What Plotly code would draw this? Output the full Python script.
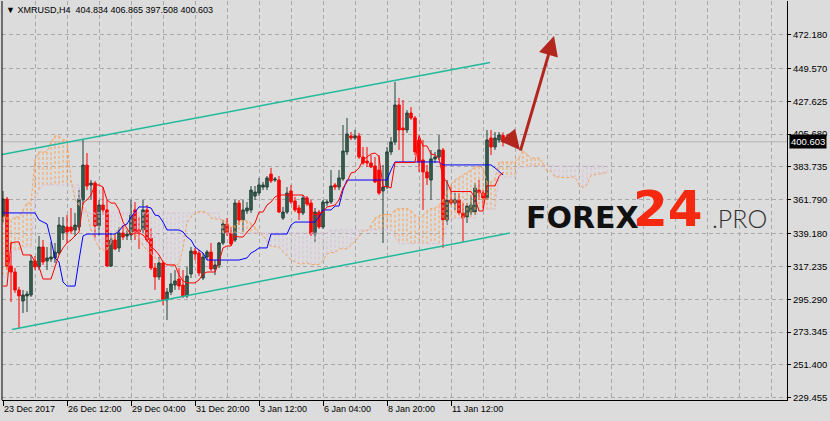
import plotly.graph_objects as go

# ---------------- data ----------------
bars = list(range(126))
opens = [350.3, 362.3, 317.5, 313.5, 301.5, 294.1, 297.5, 298.1, 320.9, 316.9,
         330.2, 320.9, 322.2, 322.9, 326.2, 339.6, 343.6, 343.6, 341.6, 343.6,
         361.7, 385.0, 371.7, 373.0, 344.3, 358.3, 355.0, 317.5, 334.9, 329.6,
         339.6, 337.6, 338.3, 355.0, 341.6, 341.6, 355.0, 336.2, 316.2, 310.2,
         319.5, 294.8, 300.1, 304.8, 308.8, 304.8, 297.5, 312.2, 327.5, 326.2,
         309.5, 323.5, 326.9, 315.5, 318.2, 332.9, 345.6, 339.6, 334.9, 359.6,
         348.3, 354.3, 355.0, 364.3, 366.3, 370.3, 370.3, 379.0, 375.0, 375.0,
         349.6, 353.6, 367.7, 361.0, 356.3, 353.0, 363.0, 359.6, 338.9, 353.6,
         343.6, 359.6, 360.3, 371.7, 370.3, 375.7, 393.8, 404.5, 403.1, 404.5,
         390.4, 387.7, 386.4, 384.4, 381.7, 367.7, 370.3, 393.8, 400.4, 425.2,
         409.8, 408.5, 419.8, 416.5, 401.8, 388.4, 380.4, 375.0, 389.1, 390.4,
         395.1, 348.3, 361.7, 359.6, 361.7, 353.0, 350.3, 353.6, 353.6, 368.3,
         366.3, 363.0, 403.1, 397.1, 401.8, 404.834]
highs = [367.7, 363.7, 333.6, 316.2, 303.5, 301.5, 300.8, 324.9, 324.2, 337.6,
         334.9, 330.2, 333.6, 332.9, 350.3, 350.3, 351.6, 356.3, 353.0, 368.3,
         401.8, 393.1, 375.0, 374.4, 361.7, 370.3, 361.7, 339.6, 339.6, 343.6,
         344.9, 341.6, 361.7, 360.3, 350.3, 361.7, 358.3, 342.9, 319.5, 323.5,
         320.2, 302.8, 312.8, 314.8, 316.2, 314.8, 316.9, 330.2, 329.6, 328.2,
         326.2, 328.2, 332.9, 321.5, 333.6, 348.3, 349.6, 343.6, 361.7, 361.7,
         361.7, 360.3, 371.0, 371.0, 376.4, 373.7, 377.7, 383.1, 377.0, 377.7,
         357.0, 370.3, 371.7, 363.7, 358.3, 365.0, 364.3, 361.7, 356.3, 355.0,
         361.7, 361.7, 381.7, 373.0, 381.7, 411.8, 416.5, 407.1, 408.5, 406.5,
         397.1, 397.1, 391.7, 390.4, 391.7, 385.1, 397.1, 403.8, 440.6, 429.9,
         428.5, 421.8, 423.8, 417.8, 403.8, 401.8, 385.1, 395.1, 393.8, 405.1,
         396.4, 375.0, 370.3, 366.3, 366.3, 359.6, 359.6, 365.0, 373.0, 375.0,
         368.3, 408.5, 408.5, 407.1, 407.1, 406.865]
lows = [346.9, 314.8, 293.4, 299.5, 276.1, 286.1, 286.8, 296.8, 314.8, 314.8,
        318.2, 314.8, 320.2, 319.5, 324.9, 334.9, 332.9, 338.9, 337.6, 341.6,
        358.3, 368.3, 361.7, 336.2, 337.6, 351.6, 316.9, 316.9, 328.2, 326.9,
        334.9, 334.9, 334.9, 334.9, 328.9, 339.6, 333.6, 314.8, 301.5, 308.2,
        291.4, 281.4, 298.1, 301.5, 301.5, 296.1, 296.1, 309.5, 321.5, 310.8,
        308.2, 321.5, 314.2, 311.5, 316.2, 331.6, 337.6, 330.9, 333.6, 344.9,
        340.3, 352.3, 353.0, 361.7, 364.3, 368.3, 368.3, 373.0, 373.7, 353.0,
        348.3, 352.3, 359.0, 353.6, 348.3, 351.6, 357.6, 337.6, 333.6, 342.3,
        342.3, 357.6, 359.0, 368.3, 368.3, 374.4, 391.7, 401.8, 401.8, 389.1,
        385.1, 383.7, 383.1, 373.0, 365.0, 332.9, 369.0, 391.7, 398.4, 395.1,
        387.1, 406.5, 415.2, 391.7, 380.4, 355.0, 371.7, 361.7, 386.4, 388.4,
        329.6, 344.9, 358.3, 355.0, 351.6, 333.6, 346.3, 351.6, 351.6, 361.7,
        356.3, 361.7, 391.7, 395.1, 399.8, 397.508]
closes = [362.3, 317.5, 313.5, 301.5, 297.5, 298.1, 298.8, 320.9, 316.9, 330.2,
          320.2, 322.9, 323.5, 326.9, 344.9, 344.3, 340.3, 340.9, 344.9, 362.3,
          385.0, 371.0, 373.0, 344.3, 358.3, 355.0, 317.5, 334.9, 328.9, 339.6,
          336.9, 338.9, 351.6, 340.3, 340.3, 355.0, 334.9, 316.2, 310.2, 319.5,
          294.8, 300.1, 305.5, 307.5, 304.1, 297.5, 310.8, 327.5, 325.5, 312.8,
          323.5, 326.9, 315.5, 318.2, 332.9, 345.6, 339.6, 332.2, 359.6, 348.3,
          355.0, 356.3, 368.3, 367.0, 371.7, 371.7, 376.4, 374.4, 375.7, 353.6,
          353.6, 366.3, 360.3, 355.0, 353.0, 363.0, 359.0, 338.9, 353.6, 343.6,
          360.3, 360.3, 371.0, 370.3, 376.4, 394.4, 405.8, 403.1, 404.5, 390.4,
          386.4, 386.4, 383.7, 373.7, 366.3, 370.3, 393.8, 400.4, 425.2, 408.5,
          408.5, 419.8, 416.5, 393.8, 387.1, 380.4, 376.4, 389.1, 390.4, 395.1,
          348.3, 361.7, 359.6, 361.7, 353.0, 349.6, 357.6, 358.3, 369.7, 366.3,
          363.0, 401.8, 397.1, 403.1, 405.1, 400.603]

tenkan = [304.1, 304.1, 332.9, 333.6, 333.6, 324.9, 324.9, 324.9, 320.2, 316.9,
          308.8, 308.8, 308.8, 316.9, 324.9, 329.6, 332.9, 334.9, 337.6, 340.3,
          359.6, 361.7, 365.0, 371.7, 371.7, 370.3, 361.7, 359.6, 359.6, 355.0,
          346.9, 343.0, 338.3, 339.6, 339.6, 338.3, 334.9, 330.2, 328.2, 324.9,
          320.2, 318.2, 318.2, 318.2, 311.5, 307.5, 306.2, 306.2, 306.2, 308.2,
          312.2, 313.5, 313.5, 313.5, 320.2, 329.6, 330.9, 330.9, 337.6, 336.9,
          336.9, 340.3, 342.9, 346.3, 353.6, 353.6, 358.3, 360.3, 363.7, 365.0,
          365.0, 365.0, 365.0, 365.0, 365.0, 365.0, 361.7, 355.0, 351.6, 352.3,
          353.6, 357.0, 357.6, 358.3, 361.7, 369.7, 373.7, 379.7, 380.4, 383.1,
          388.4, 390.4, 392.4, 393.1, 390.8, 370.7, 370.7, 369.7, 386.7, 386.7,
          386.7, 386.7, 386.7, 386.7, 404.8, 397.8, 397.8, 392.4, 391.8, 389.4,
          376.7, 373.7, 367.3, 367.3, 367.3, 367.3, 367.3, 367.3, 363.0, 354.3,
          354.3, 371.1, 371.1, 371.1, 377.4, 380.1]
kijun = [353.0, 353.0, 353.0, 353.0, 353.0, 353.0, 353.0, 353.0, 353.0, 348.3,
         346.9, 345.6, 334.9, 322.9, 320.2, 306.8, 304.1, 304.1, 304.1, 321.5,
         337.6, 338.9, 338.9, 338.9, 338.9, 338.9, 338.9, 338.9, 338.9, 340.9,
         344.3, 345.6, 350.3, 353.6, 357.0, 357.0, 357.0, 356.3, 351.6, 351.0,
         346.9, 341.6, 341.6, 341.6, 341.6, 340.3, 336.9, 334.9, 330.2, 328.2,
         326.2, 321.5, 321.5, 321.5, 321.5, 321.5, 321.5, 321.5, 321.5, 321.5,
         322.2, 322.9, 326.2, 327.6, 329.6, 329.6, 329.6, 338.9, 338.9, 338.9,
         338.9, 338.9, 344.9, 346.9, 346.9, 346.9, 346.9, 346.9, 346.9, 350.3,
         355.0, 355.0, 355.0, 357.6, 357.6, 368.3, 375.0, 375.0, 375.0, 375.0,
         375.0, 375.0, 375.0, 375.0, 375.0, 375.0, 375.0, 381.7, 387.1, 387.1,
         387.1, 387.1, 387.1, 387.1, 387.1, 387.1, 387.1, 387.1, 387.1, 387.1,
         385.1, 385.1, 385.1, 385.1, 385.1, 385.1, 385.1, 385.1, 385.1, 385.1,
         385.1, 385.1, 385.1, 383.1, 380.4, 378.4]

cloud_bars = list(range(152))
senkou_a = [350.3, 350.3, 348.3, 350.3, 350.3, 355.0, 359.6, 359.6, 388.4, 393.8,
            393.8, 393.8, 400.4, 404.5, 404.5, 401.8, 401.8, 375.0, 361.7, 358.3,
            357.0, 353.0, 341.6, 334.9, 329.6, 328.2, 328.2, 333.0, 340.0, 342.0,
            344.5, 341.0, 340.0, 339.0, 336.0, 331.0, 328.2, 325.5, 322.5, 320.5,
            320.5, 318.5, 318.5, 318.0, 319.0, 329.5, 346.5, 350.3, 352.5, 354.0,
            354.0, 353.0, 349.5, 349.0, 349.0, 348.3, 346.0, 343.5, 344.5, 347.0,
            348.3, 347.5, 346.0, 343.5, 340.3, 338.0, 334.0, 330.5, 330.5, 330.0,
            327.0, 324.5, 321.5, 320.5, 319.0, 319.0, 319.5, 318.5, 318.5, 318.5,
            321.0, 325.5, 326.5, 326.5, 329.0, 329.0, 329.0, 331.5, 334.5, 337.0,
            341.0, 341.0, 344.5, 349.6, 351.0, 352.0, 352.0, 352.0, 355.0, 356.0,
            356.0, 356.0, 354.5, 351.5, 350.0, 351.5, 354.3, 356.0, 356.3, 358.0,
            361.7, 367.0, 372.0, 375.0, 376.5, 378.0, 380.0, 382.0, 383.7, 384.0,
            383.0, 373.5, 373.5, 376.0, 387.0, 387.0, 387.0, 387.0, 387.0, 390.0,
            394.5, 392.4, 389.7, 389.7, 389.7, 386.4, 381.0, 381.0, 377.0, 377.0,
            376.5, 376.5, 377.0, 377.0, 371.7, 370.0, 371.7, 378.0, 378.5, 379.0,
            379.0, 380.0]
senkou_b = [310.2, 310.2, 328.2, 328.2, 328.2, 330.2, 330.2, 330.2, 361.7, 368.3,
            371.7, 371.7, 371.7, 371.7, 371.7, 371.7, 371.7, 371.7, 371.7, 371.7,
            353.0, 353.0, 353.0, 353.0, 353.0, 353.0, 353.0, 353.0, 353.0, 353.0,
            353.0, 353.0, 353.0, 353.0, 353.0, 353.0, 353.0, 353.0, 353.0, 353.0,
            353.0, 353.0, 353.0, 353.0, 353.0, 353.0, 353.0, 353.0, 353.0, 353.0,
            353.0, 353.0, 353.0, 353.0, 353.0, 339.6, 339.6, 339.6, 339.6, 339.6,
            339.6, 339.6, 339.6, 339.6, 339.6, 339.6, 339.6, 339.6, 339.6, 339.6,
            339.6, 339.6, 339.6, 339.6, 339.6, 339.6, 339.6, 339.6, 339.6, 339.6,
            339.6, 339.6, 341.6, 341.6, 341.6, 341.6, 341.6, 341.6, 341.6, 341.6,
            341.6, 341.6, 341.6, 341.6, 341.6, 341.6, 341.6, 341.6, 337.0, 332.5,
            332.5, 332.5, 332.5, 332.5, 332.5, 332.5, 332.5, 332.5, 332.5, 332.5,
            332.5, 346.9, 349.0, 349.5, 349.5, 349.5, 349.5, 349.5, 349.5, 355.5,
            355.5, 355.5, 355.5, 355.5, 377.0, 377.0, 377.0, 377.0, 377.0, 383.7,
            383.7, 383.7, 384.4, 384.4, 384.4, 384.4, 384.4, 384.4, 384.4, 384.4,
            384.4, 384.4, 384.4, 384.4, 384.4, 384.4, 384.4, 384.4, 384.4, 384.4,
            384.4, 384.4]

time_tick_bars = [0, 16, 32, 48, 64, 80, 96, 112]
time_tick_labels = ["23 Dec 2017", "26 Dec 12:00", "29 Dec 04:00", "31 Dec 20:00",
                    "3 Jan 12:00", "6 Jan 04:00", "8 Jan 20:00", "11 Jan 12:00"]
minor_grid_bars = [8, 24, 40, 56, 72, 88, 104, 120, 128, 136, 144, 152, 160, 168, 176, 184, 192]
price_ticks = [229.455, 251.400, 273.345, 295.290, 317.235, 339.180,
               361.790, 383.735, 405.680, 427.625, 449.570, 472.180]

# channel lines and arrows drawn on the chart (bar index, price)
upper_channel_x = [-0.25, 121.75]
upper_channel_y = [392.0, 453.6]
lower_channel_x = [2.25, 126.75]
lower_channel_y = [275.05, 339.6]
arrow_short = dict(tail=(125.75, 406.4), tip=(129.25, 395.1))
arrow_long = dict(tail=(129.25, 393.7), tip=(137.75, 471.3))

symbol = "XMRUSD,H4"

# ---------------- styles ----------------
BG = "#DCDCDC"
GRID = "#A9A9A9"
SANDY = "#F4A460"
THISTLE = "#D8BFD8"
FONT = "Liberation Sans"

fig = go.Figure()

# Ichimoku cloud hatch (vertical dotted strokes between the two spans)
hx_a, hy_a, hx_b, hy_b = [], [], [], []
for i, a, b in zip(cloud_bars, senkou_a, senkou_b):
    if a >= b:
        hx_a += [i, i, None]
        hy_a += [a, b, None]
    else:
        hx_b += [i, i, None]
        hy_b += [a, b, None]
fig.add_trace(go.Scatter(x=hx_b, y=hy_b, mode="lines", hoverinfo="skip",
                         line=dict(color=THISTLE, width=1, dash="3px,2px")))
fig.add_trace(go.Scatter(x=hx_a, y=hy_a, mode="lines", hoverinfo="skip",
                         line=dict(color=SANDY, width=1, dash="3px,2px")))
fig.add_trace(go.Scatter(x=cloud_bars, y=senkou_b, mode="lines", hoverinfo="skip",
                         line=dict(color=THISTLE, width=1, dash="3px,2px")))
fig.add_trace(go.Scatter(x=cloud_bars, y=senkou_a, mode="lines", hoverinfo="skip",
                         line=dict(color=SANDY, width=1, dash="3px,2px")))

# candles
fig.add_trace(go.Candlestick(
    x=bars, open=opens, high=highs, low=lows, close=closes,
    increasing=dict(line=dict(color="#24433A", width=1), fillcolor="#37604F"),
    decreasing=dict(line=dict(color="#FF0000", width=1), fillcolor="#FF0000"),
    whiskerwidth=0, hoverinfo="skip"))

# Kijun / Tenkan
fig.add_trace(go.Scatter(x=bars, y=kijun, mode="lines", hoverinfo="skip",
                         line=dict(color="#0000FF", width=1)))
fig.add_trace(go.Scatter(x=bars, y=tenkan, mode="lines", hoverinfo="skip",
                         line=dict(color="#FF0000", width=1)))

# channel
for cx, cy in ((upper_channel_x, upper_channel_y), (lower_channel_x, lower_channel_y)):
    fig.add_trace(go.Scatter(x=cx, y=cy, mode="lines", hoverinfo="skip",
                             line=dict(color="#1FBA9C", width=1.5)))

grid_kw = dict(showgrid=True, gridcolor=GRID, gridwidth=1, griddash="4px,3px",
               zeroline=False, automargin=False)

fig.update_layout(
    width=830, height=421,
    margin=dict(l=2, r=43, t=1, b=21),
    paper_bgcolor=BG, plot_bgcolor=BG,
    showlegend=False, hovermode=False,
    boxgap=0.375, boxgroupgap=0,
    xaxis=dict(range=[-0.25, 196], tickmode="array", tickvals=time_tick_bars,
               ticktext=time_tick_labels, ticks="outside", ticklen=5, tickcolor="black",
               showline=True, linecolor="black", linewidth=1,
               ticklabelposition="outside right", tickangle=0,
               tickfont=dict(family=FONT, size=9, color="black"),
               rangeslider=dict(visible=False),
               minor=dict(tickmode="array", tickvals=minor_grid_bars, ticks="",
                          showgrid=True, gridcolor=GRID, griddash="4px,3px", gridwidth=1),
               **grid_kw),
    yaxis=dict(side="right", range=[227.91, 494.72], tickmode="array",
               tickvals=price_ticks, ticktext=[f"{v:.3f}" for v in price_ticks],
               ticks="outside", ticklen=3, tickcolor="black",
               showline=True, linecolor="black", linewidth=1,
               tickfont=dict(family=FONT, size=9.5, color="black"),
               **grid_kw),
)

# left frame and last price line
fig.add_shape(type="line", xref="paper", yref="paper", x0=0, x1=0, y0=0, y1=1,
              line=dict(color="black", width=1))
fig.add_shape(type="line", xref="paper", yref="y", x0=0, x1=1,
              y0=closes[-1], y1=closes[-1], layer="between",
              line=dict(color="#B4B4B4", width=1))

# header
header = (f"\u25BC {symbol}\u00a0\u00a0{opens[-1]:.3f} {highs[-1]:.3f} "
          f"{lows[-1]:.3f} {closes[-1]:.3f}")
fig.add_annotation(text=header, xref="paper", yref="paper", x=0, y=1,
                   xanchor="left", yanchor="middle", xshift=2, yshift=-9,
                   showarrow=False, font=dict(family=FONT, size=9, color="black"))

# last price label
fig.add_annotation(text=f"{closes[-1]:.3f}", xref="paper", yref="y", x=1, y=closes[-1],
                   xanchor="left", yanchor="middle", xshift=2, showarrow=False,
                   bgcolor="black", borderpad=1,
                   font=dict(family=FONT, size=9.5, color="white"))

# arrows
for arr in (arrow_short, arrow_long):
    fig.add_annotation(x=arr["tip"][0], y=arr["tip"][1], ax=arr["tail"][0], ay=arr["tail"][1],
                       xref="x", yref="y", axref="x", ayref="y", text="",
                       showarrow=True, arrowhead=2, arrowsize=1.3, arrowwidth=3,
                       arrowcolor="#B3261E", standoff=0)

# watermark logo
fig.add_annotation(text="FOREX", xref="paper", yref="paper", x=0, y=1,
                   xanchor="right", yanchor="middle", xshift=639, yshift=-216,
                   showarrow=False,
                   font=dict(family="DejaVu Sans", size=30, weight="bold", color="#111111"))
fig.add_annotation(text="24", xref="paper", yref="paper", x=0, y=1,
                   xanchor="left", yanchor="middle", xshift=629, yshift=-208,
                   showarrow=False,
                   font=dict(family="DejaVu Sans", size=50, weight="bold", color="#F5290F"))
fig.add_annotation(text=".PRO", xref="paper", yref="paper", x=0, y=1,
                   xanchor="left", yanchor="middle", xshift=708, yshift=-217,
                   showarrow=False,
                   font=dict(family="Lato", size=25, weight=300, color="#333333"))

fig.write_html("out.html", config={"displayModeBar": False},
               post_script="document.body.style.margin='0';")
